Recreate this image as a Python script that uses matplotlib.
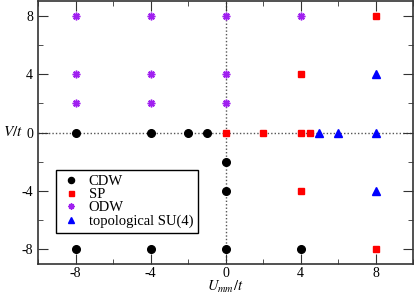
import matplotlib
matplotlib.use("Agg")
import matplotlib.pyplot as plt
from matplotlib.ticker import MultipleLocator

plt.rcParams["font.family"] = ["Liberation Serif", "DejaVu Serif"]
plt.rcParams["mathtext.fontset"] = "stix"
plt.rcParams["axes.unicode_minus"] = False

# Phase points (U_mm/t, V/t)
cdw_u = [-8, -4, -2, -1, 0, 0, 0, -8, -4, 4]
cdw_v = [0, 0, 0, 0, -2, -4, -8, -8, -8, -8]

sp_u = [0, 2, 4, 4.5, 4, 8, 4, 8]
sp_v = [0, 0, 0, 0, 4, 8, -4, -8]

odw_u = [-8, -4, 0, 4, -8, -4, 0, -8, -4, 0]
odw_v = [8, 8, 8, 8, 4, 4, 4, 2, 2, 2]

topo_u = [5, 6, 8, 8, 8]
topo_v = [0, 0, 0, 4, -4]

ticks = [-8, -4, 0, 4, 8]
tick_labels = ["-8", "-4", "0", "4", "8"]

PURPLE = "#a020f0"

fig = plt.figure(figsize=(4.15, 2.99), dpi=100)
ax = fig.add_axes([38 / 415, 1 - 264 / 299, 375 / 415, 263 / 299])

ax.axhline(0, color="#555555", lw=1, ls=(0, (1, 1.5)), zorder=1)
ax.axvline(0, color="#555555", lw=1, ls=(0, (1, 1.5)), zorder=1)

ax.plot(cdw_u, cdw_v, "o", color="black", ms=5.5, ls="none", label="CDW", zorder=3)
ax.plot(sp_u, sp_v, "s", color="red", ms=4.5, ls="none", label="SP", zorder=3)
# xmgrace-style star: asterisk burst with filled centre
ax.plot(odw_u, odw_v, marker=(8, 2, 0), color=PURPLE, ms=5.5, mew=1.1, ls="none", zorder=3)
ax.plot(odw_u, odw_v, marker="o", color=PURPLE, ms=2.5, ls="none", zorder=3)
ax.plot([], [], marker=(8, 2, 0), color=PURPLE, ms=5.5, mew=1.1, ls="none", label="ODW")
ax.plot(topo_u, topo_v, "^", color="blue", ms=6, ls="none", label="topological SU(4)", zorder=3)

ax.set_xlim(-10, 10)
ax.set_ylim(-9, 9)
ax.set_xticks(ticks)
ax.set_xticklabels(tick_labels)
ax.set_yticks(ticks)
ax.set_yticklabels(tick_labels)
ax.xaxis.set_minor_locator(MultipleLocator(2))
ax.yaxis.set_minor_locator(MultipleLocator(2))
ax.tick_params(which="both", direction="in", top=True, right=True, labelsize=10, color="#333333")
ax.tick_params(which="major", length=7)
ax.tick_params(which="minor", length=3.5)
ax.tick_params(axis="x", pad=2.5)
for s in ax.spines.values():
    s.set_linewidth(1.2)
    s.set_color("#333333")

fig.text(3 / 415, 1 - 132 / 299, "$V/t$", fontsize=11, va="center", ha="left")
fig.text(207 / 415, 1 - 291 / 299, "$U_{mm}/t$", fontsize=10.5, va="baseline", ha="left")

leg = ax.legend(loc="lower left", bbox_to_anchor=(18 / 375, 31 / 263), borderaxespad=0,
                fontsize=10.5, frameon=True, fancybox=False, edgecolor="black", framealpha=1,
                borderpad=0.35, labelspacing=0.0, handletextpad=0.6, handlelength=1.3,
                markerscale=0.8)
leg.get_frame().set_linewidth(1)

fig.savefig("out.png", dpi=100)
